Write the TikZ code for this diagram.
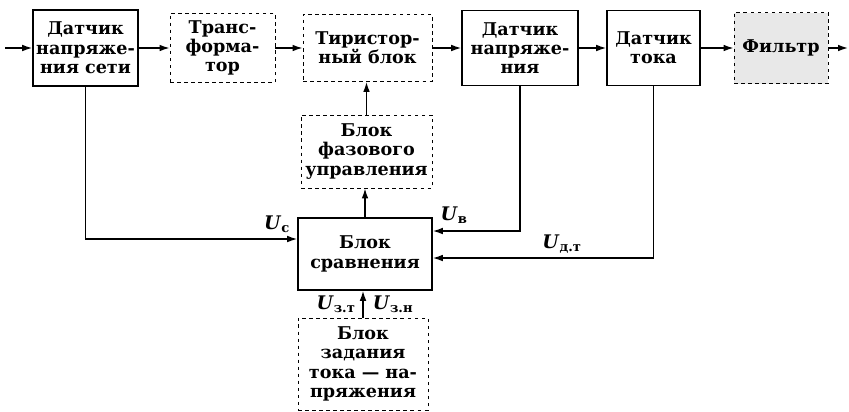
\documentclass[tikz,border=0pt]{standalone}
\usepackage{fontspec}
\setmainfont{DejaVu Serif}
\usetikzlibrary{arrows.meta,positioning}

\newcommand{\Usig}[1]{\textbf{\textit{U}}\textsubscript{\textbf{#1}}}

\begin{document}
\begin{tikzpicture}[
  x=0.03cm,y=-0.03cm,
  blok/.style={draw,line width=1.3pt,align=center,inner sep=0pt,
    font=\fontsize{15}{16.5}\selectfont\bfseries},
  pblok/.style={blok,dashed,line width=0.7pt},
  arrow/.style={-{Latex[length=3mm,width=2mm]},line width=1.2pt},
  lbl/.style={font=\fontsize{16}{19}\selectfont}
]
\useasboundingbox (0,0) rectangle (849,411);
% top row
\node[blok,minimum width=3.15cm,minimum height=2.28cm] (dns) at (85.5,48) {Датчик\\напряже-\\ния сети};
\node[pblok,minimum width=3.15cm,minimum height=2.07cm] (trans) at (222.5,48) {Транс-\\форма-\\тор};
\node[pblok,minimum width=3.87cm,minimum height=2.01cm] (tir) at (367.5,48) {Тиристор-\\ный блок};
\node[blok,minimum width=3.48cm,minimum height=2.25cm] (dn) at (520,48) {Датчик\\напряже-\\ния};
\node[blok,minimum width=2.79cm,minimum height=2.25cm] (dt) at (653.5,48) {Датчик\\тока};
\node[pblok,fill=gray!18,minimum width=2.82cm,minimum height=2.13cm] (filt) at (781,48) {Фильтр};
% control blocks
\node[pblok,minimum width=3.93cm,minimum height=2.19cm] (faz) at (366.5,151.5) {Блок\\фазового\\управления};
\node[blok,minimum width=4.02cm,minimum height=2.16cm] (sravn) at (365,254) {Блок\\сравнения};
\node[pblok,minimum width=3.90cm,minimum height=2.76cm] (zad) at (363,364) {Блок\\задания\\тока — на-\\пряжения};

\coordinate (vhod) at (5,48);
\coordinate (vyhod) at (848,48);
\coordinate (uc) at (sravn.west |- 0,239);
\coordinate (uv) at (sravn.east |- 0,231);
\coordinate (udt) at (sravn.east |- 0,258);

\draw[arrow] (vhod) -- (dns);
\draw[arrow] (dns) -- (trans);
\draw[arrow] (trans) -- (tir);
\draw[arrow] (tir) -- (dn);
\draw[arrow] (dn) -- (dt);
\draw[arrow] (dt) -- (filt);
\draw[arrow] (filt) -- (vyhod);

\draw[arrow] (faz.north) -- (faz.north |- tir.south);
\draw[arrow] (sravn.north) -- (sravn.north |- faz.south);
\draw[arrow] (zad.north) -- (zad.north |- sravn.south);

\draw[arrow] (dns.south) |- (uc);
\draw[arrow] (dn.south) |- (uv);
\draw[arrow] (dt.south) |- (udt);

\node[lbl] (luc) at (277,224) {\Usig{с}};
\node[lbl] (luv) at (454,215) {\Usig{в}};
\node[lbl] (ludt) at (562,244) {\Usig{д.т}};
\node[lbl] (luzt) at (336,304) {\Usig{з.т}};
\node[lbl] (luzn) at (393,304) {\Usig{з.н}};
\end{tikzpicture}
\end{document}
